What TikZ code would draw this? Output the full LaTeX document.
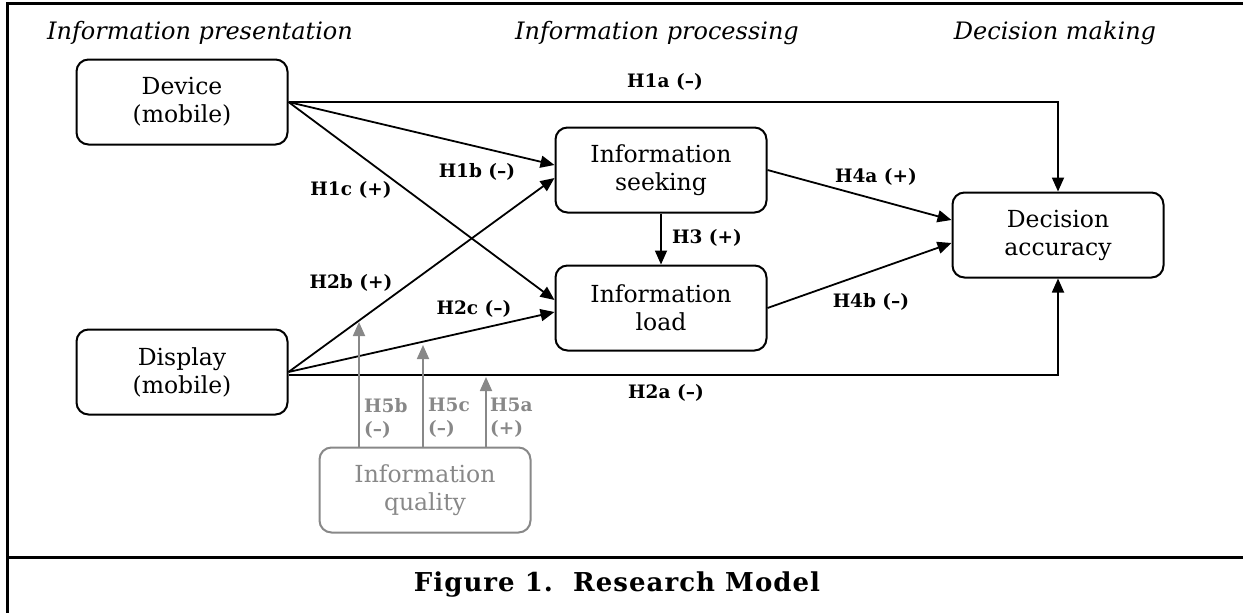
\documentclass[tikz,border=0pt]{standalone}
\usepackage{fontspec}
\setmainfont{DejaVu Serif}
\usetikzlibrary{arrows.meta}
\definecolor{qgray}{RGB}{136,136,136}

\begin{document}
\begin{tikzpicture}[x=1pt,y=-1pt,
  box/.style={draw, line width=2pt, rounded corners=12pt,
    minimum width=211pt, minimum height=85pt, align=center,
    font=\fontsize{23.5}{28}\selectfont, inner sep=0pt},
  link/.style={line width=1.8pt, -{Triangle[length=14pt,width=12pt]}},
  qlink/.style={link, draw=qgray, fill=qgray},
  hyp/.style={font=\bfseries\fontsize{18.5}{23}\selectfont, inner sep=0pt},
  stage/.style={font=\itshape\fontsize{24}{28}\selectfont, inner sep=0pt},
]
\useasboundingbox (0,0) rectangle (1243,613);

% frame and caption rule
\draw[line width=3pt] (1243,3) -- (7,3) -- (7,613);
\draw[line width=3pt] (7,557) -- (1243,557);

% stage headings
\node[stage] (st1) at (200,33) {Information presentation};
\node[stage] (st2) at (657,33) {Information processing};
\node[stage] (st3) at (1055,33) {Decision making};

% constructs
\node[box] (dev)  at (182,102) {Device\\(mobile)};
\node[box] (dis)  at (182,372) {Display\\(mobile)};
\node[box] (seek) at (661,170) {Information\\seeking};
\node[box] (load) at (661,308) {Information\\load};
\node[box] (acc)  at (1058,235) {Decision\\accuracy};
\node[box, draw=qgray, text=qgray] (qual) at (425,490) {Information\\quality};

% main paths
\draw[link] (dev.east) -| (acc.north);
\draw[link] ([yshift=-3pt]dis.east) -| (acc.south);
\draw[link] (dev.east) -- ([yshift=5pt]seek.west);
\draw[link] (dev.east) -- ([yshift=8pt]load.west);
\draw[link] (dis.east) -- ([yshift=-8pt]seek.west);
\draw[link] (dis.east) -- ([yshift=-4pt]load.west);
\draw[link] (seek.south) -- (load.north);
\draw[link] (seek.east) -- ([yshift=15pt]acc.west);
\draw[link] (load.east) -- ([yshift=-8pt]acc.west);

% moderating paths of information quality
\coordinate (t5b) at (359,322);
\coordinate (t5c) at (423,345);
\coordinate (t5a) at (486,377);
\draw[qlink] (t5b |- qual.north) -- (t5b);
\draw[qlink] (t5c |- qual.north) -- (t5c);
\draw[qlink] (t5a |- qual.north) -- (t5a);

% hypothesis labels
\node[hyp] (h1a) at (665,82)  {H1a (–)};
\node[hyp] (h1b) at (477,172) {H1b (–)};
\node[hyp] (h1c) at (351,190) {H1c (+)};
\node[hyp] (h2b) at (351,283) {H2b (+)};
\node[hyp] (h2c) at (474,309) {H2c (–)};
\node[hyp] (h2a) at (666,393) {H2a (–)};
\node[hyp] (h3)  at (707,238) {H3 (+)};
\node[hyp] (h4a) at (876,177) {H4a (+)};
\node[hyp] (h4b) at (871,302) {H4b (–)};
\node[hyp, text=qgray, align=left, anchor=west] (h5b) at (364,418) {H5b\\(–)};
\node[hyp, text=qgray, align=left, anchor=west] (h5c) at (428,418) {H5c\\(–)};
\node[hyp, text=qgray, align=left, anchor=west] (h5a) at (490,418) {H5a\\(+)};

% caption
\node[font=\bfseries\fontsize{26}{30}\selectfont\addfontfeature{LetterSpace=4}, inner sep=0pt] (cap) at (617,585) {Figure 1.\ \ Research Model};
\end{tikzpicture}
\end{document}
